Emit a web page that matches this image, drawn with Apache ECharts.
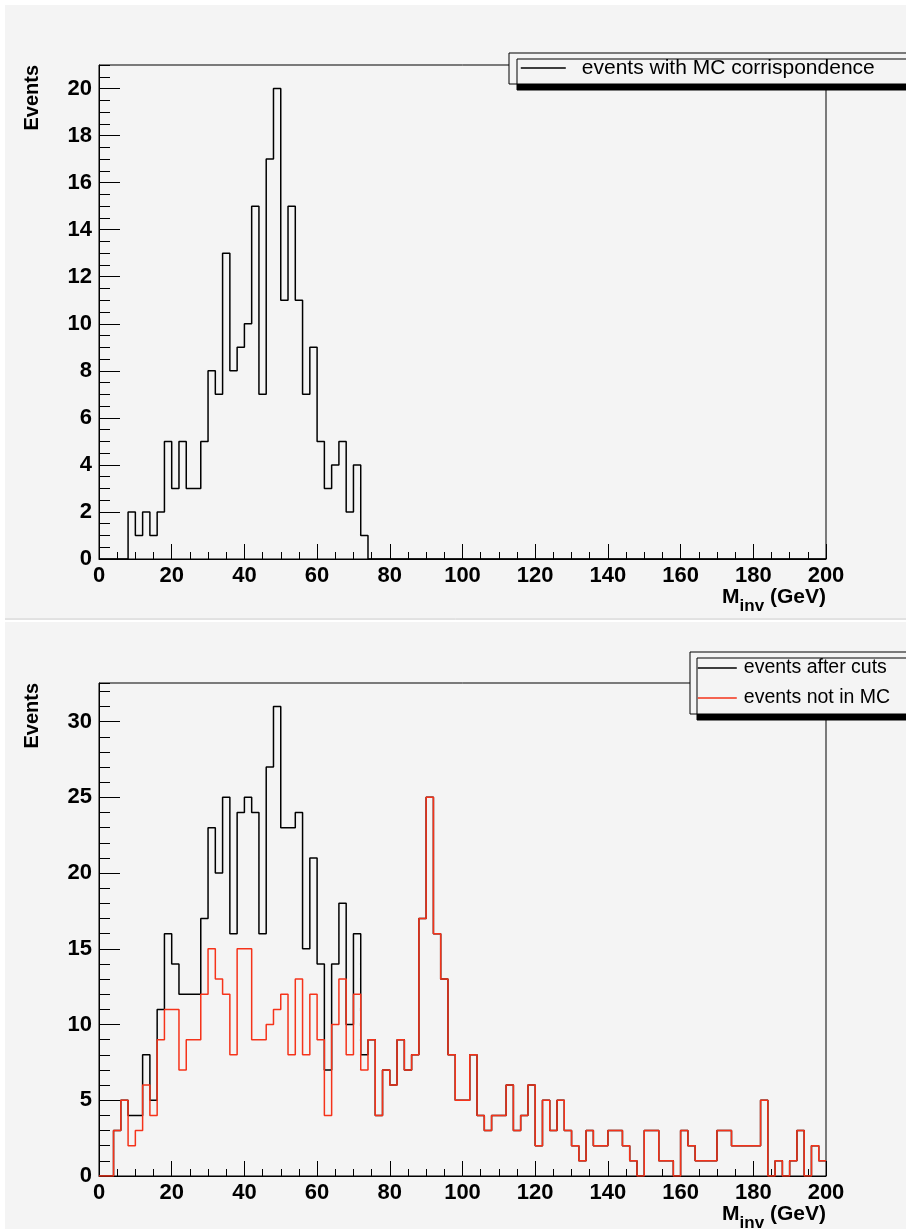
<!DOCTYPE html>
<html>
<head>
<meta charset="utf-8">
<script src="https://cdn.jsdelivr.net/npm/echarts@6/dist/echarts.min.js"></script>
<style>
html,body{margin:0;padding:0;background:#ffffff;}
#chart{width:906px;height:1229px;}
</style>
</head>
<body>
<div id="chart"></div>
<script>
// ---- binning (2 GeV bins from 0 to 200) ----
const binLow = 0;
const binWidth = 2;

// ---- top histogram: events with MC correspondence ----
const mcCorrespondence = [
  0,0,0,0,2,1,2,1,2,5,
  3,5,3,3,5,8,7,13,8,9,
  10,15,7,17,20,11,15,11,7,9,
  5,3,4,5,2,4,1,0,0,0,
  0,0,0,0,0,0,0,0,0,0,
  0,0,0,0,0,0,0,0,0,0,
  0,0,0,0,0,0,0,0,0,0,
  0,0,0,0,0,0,0,0,0,0,
  0,0,0,0,0,0,0,0,0,0,
  0,0,0,0,0,0,0,0,0,0
];

// ---- bottom histograms ----
const afterCuts = [
  0,0,3,5,4,4,8,5,11,16,
  14,12,12,12,17,23,20,25,16,24,
  25,24,16,27,31,23,23,24,15,21,
  14,7,14,18,10,16,8,9,4,7,
  6,9,7,8,17,25,16,13,8,5,
  5,8,4,3,4,4,6,3,4,6,
  2,5,3,5,3,2,1,3,2,2,
  3,3,2,1,0,3,3,1,1,0,
  3,2,1,1,1,3,3,2,2,2,
  2,5,0,1,0,1,3,0,2,1
];
const notInMC = [
  0,0,3,5,2,3,6,4,9,11,
  11,7,9,9,12,15,13,12,8,15,
  15,9,9,10,11,12,8,13,8,12,
  9,4,10,13,8,12,7,9,4,7,
  6,9,7,8,17,25,16,13,8,5,
  5,8,4,3,4,4,6,3,4,6,
  2,5,3,5,3,2,1,3,2,2,
  3,3,2,1,0,3,3,1,1,0,
  3,2,1,1,1,3,3,2,2,2,
  2,5,0,1,0,1,3,0,2,1
];

// ---- names / axis texts ----
const seriesNames = ['events with MC corrispondence', 'events after cuts', 'events not in MC'];
const yTitle = 'Events';
const xRange = [0, 200];
const xMajor = 20;
const topYRange = [0, 21];
const topYMajor = 2, topYMinor = 0.5;
const botYRange = [0, 32.55];
const botYMajor = 5, botYMinor = 1;

function histPoints(vals) {
  const pts = vals.map((v, i) => [binLow + i * binWidth, v]);
  pts.push([binLow + vals.length * binWidth, vals[vals.length - 1]]);
  return pts;
}

const FONT = '"Liberation Sans", Arial, Helvetica, sans-serif';
const BLACK = '#000000';
const RED = '#f5331a';

function xAxisCfg(gridIndex) {
  return {
    type: 'value', gridIndex, min: xRange[0], max: xRange[1], interval: xMajor,
    axisLine: { show: true, onZero: false, lineStyle: { color: BLACK, width: 1 } },
    axisTick: { show: true, inside: true, length: 15, lineStyle: { color: BLACK, width: 1 } },
    minorTick: { show: true, splitNumber: 4, length: 7, lineStyle: { color: BLACK, width: 1 } },
    splitLine: { show: false },
    axisLabel: { show: true, color: BLACK, fontFamily: FONT, fontWeight: 'bold', fontSize: 22, margin: 6 }
  };
}
function yMajorCfg(gridIndex, range, interval) {
  return {
    type: 'value', gridIndex, min: range[0], max: range[1], interval,
    position: 'left',
    axisLine: { show: true, lineStyle: { color: BLACK, width: 1 } },
    axisTick: { show: true, inside: true, length: 21, lineStyle: { color: BLACK, width: 1 } },
    splitLine: { show: false },
    axisLabel: { show: true, showMaxLabel: false, color: BLACK, fontFamily: FONT, fontWeight: 'bold', fontSize: 22, margin: 7 }
  };
}
function yMinorCfg(gridIndex, range, interval) {
  return {
    type: 'value', gridIndex, min: range[0], max: range[1], interval,
    position: 'left',
    axisLine: { show: false },
    axisTick: { show: true, inside: true, length: 11, lineStyle: { color: BLACK, width: 1 } },
    splitLine: { show: false },
    axisLabel: { show: false }
  };
}

function xTitle(y) {
  return {
    type: 'text', x: 826, y: y, z: 10,
    style: {
      text: '{m|M}{s|inv}{g| (GeV)}',
      align: 'right', verticalAlign: 'top',
      rich: {
        m: { fontFamily: FONT, fontWeight: 'bold', fontSize: 21, lineHeight: 21, verticalAlign: 'top', fill: BLACK },
        s: { fontFamily: FONT, fontWeight: 'bold', fontSize: 17, lineHeight: 17, verticalAlign: 'top', padding: [11, 0, 0, 0], fill: BLACK },
        g: { fontFamily: FONT, fontWeight: 'bold', fontSize: 21, lineHeight: 21, verticalAlign: 'top', fill: BLACK }
      }
    }
  };
}
function yTitleEl(y) {
  return {
    type: 'text', x: 32, y: y, rotation: Math.PI / 2, z: 10,
    style: { text: yTitle, font: 'bold 20px ' + FONT, fill: BLACK, align: 'right', verticalAlign: 'middle' }
  };
}

const chart = echarts.init(document.getElementById('chart'), null, { renderer: 'canvas' });
chart.setOption({
  animation: false,
  backgroundColor: '#ffffff',
  textStyle: { fontFamily: FONT },
  grid: [
    { left: 99, right: 80, top: 65, bottom: 670, show: true, borderColor: BLACK, borderWidth: 1, backgroundColor: 'transparent' },
    { left: 99, right: 80, top: 683, bottom: 53, show: true, borderColor: BLACK, borderWidth: 1, backgroundColor: 'transparent' }
  ],
  xAxis: [xAxisCfg(0), xAxisCfg(1)],
  yAxis: [
    yMajorCfg(0, topYRange, topYMajor), yMinorCfg(0, topYRange, topYMinor),
    yMajorCfg(1, botYRange, botYMajor), yMinorCfg(1, botYRange, botYMinor)
  ],
  legend: [
    {
      data: [seriesNames[0]], orient: 'vertical', left: 509, top: 53,
      padding: [4, 70, 5, 11], itemWidth: 45, itemHeight: 14, itemGap: 10,
      selectedMode: false,
      itemStyle: { opacity: 0 },
      lineStyle: { width: 1.6 },
      backgroundColor: '#f4f4f4', borderColor: BLACK, borderWidth: 1,
      shadowColor: BLACK, shadowBlur: 0, shadowOffsetX: 8, shadowOffsetY: 6,
      textStyle: { color: BLACK, fontFamily: FONT, fontSize: 21, lineHeight: 22, padding: [0, 0, 0, 11] }
    },
    {
      data: [seriesNames[1], seriesNames[2]], orient: 'vertical', left: 690, top: 652,
      padding: [6, 60, 6, 7], itemWidth: 39, itemHeight: 14, itemGap: 10,
      selectedMode: false,
      itemStyle: { opacity: 0 },
      lineStyle: { width: 1.6 },
      backgroundColor: '#f4f4f4', borderColor: BLACK, borderWidth: 1,
      shadowColor: BLACK, shadowBlur: 0, shadowOffsetX: 7, shadowOffsetY: 6,
      textStyle: { color: BLACK, fontFamily: FONT, fontSize: 19.5, lineHeight: 20, padding: [0, 0, 0, 2] }
    }
  ],
  series: [
    {
      name: seriesNames[0], type: 'line', xAxisIndex: 0, yAxisIndex: 0,
      data: histPoints(mcCorrespondence), step: 'end', symbol: 'none', z: 3,
      lineStyle: { color: BLACK, width: 1.5 }, itemStyle: { color: BLACK }
    },
    {
      name: seriesNames[1], type: 'line', xAxisIndex: 1, yAxisIndex: 2,
      data: histPoints(afterCuts), step: 'end', symbol: 'none', z: 3,
      lineStyle: { color: BLACK, width: 1.5 }, itemStyle: { color: BLACK }
    },
    {
      name: seriesNames[2], type: 'line', xAxisIndex: 1, yAxisIndex: 2,
      data: histPoints(notInMC), step: 'end', symbol: 'none', z: 4,
      lineStyle: { color: RED, width: 1.5 }, itemStyle: { color: RED }
    }
  ],
  graphic: {
    elements: [
      { type: 'rect', z: -100, shape: { x: 5, y: 5, width: 901, height: 613 }, style: { fill: '#f4f4f4' } },
      { type: 'line', z: -99, shape: { x1: 5, y1: 619, x2: 906, y2: 619 }, style: { stroke: '#c4c4c4', lineWidth: 1 } },
      { type: 'rect', z: -100, shape: { x: 5, y: 622, width: 901, height: 607 }, style: { fill: '#f4f4f4' } },
      yTitleEl(65),
      yTitleEl(683),
      xTitle(587),
      xTitle(1204)
    ]
  }
});
</script>
</body>
</html>
